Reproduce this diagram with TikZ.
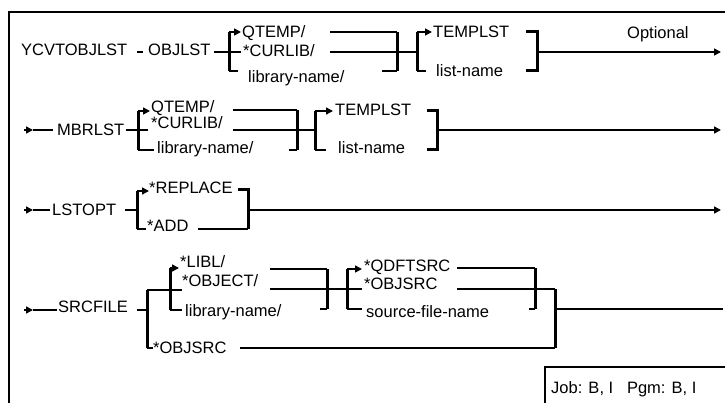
\documentclass[tikz,border=0pt]{standalone}
\usepackage{fontspec}
\setmainfont{Liberation Sans}
\usetikzlibrary{arrows.meta}
\begin{document}
\begin{tikzpicture}[x=1pt,y=-1pt,
  lbl/.style={anchor=base west,inner sep=0pt,font=\fontsize{16.5}{20}\selectfont},
  ln/.style={line width=1.5pt},
  brk/.style={line width=3pt},
  tk/.style={line width=2.4pt},
  arr/.style={line width=1.5pt,-{Triangle[length=7pt,width=7pt]}}]
\useasboundingbox (0,0) rectangle (725,403);
% frame
\coordinate (fbl) at (9,404); \coordinate (ftl) at (9,12); \coordinate (ftr) at (726,12);
\draw[line width=1.6pt] (fbl) -- (ftl) -- (ftr);

% ---------- Row 1 ----------
\node[lbl] (ycv) at (21,56) {YCVTOBJLST};
\coordinate (d1a) at (137,52); \coordinate (d1b) at (143,52);
\draw[ln] (d1a) -- (d1b);
\node[lbl] (objlst) at (148,56) {OBJLST};
\coordinate (o1) at (214,52); \coordinate (c1) at (241,52);
\draw[ln] (o1) -- (c1);
\coordinate (b1t) at (229,32); \coordinate (b1b) at (229,71);
\draw[brk] (b1t) -- (b1b);
\coordinate (b1a) at (241,32); \coordinate (b1k) at (238,71);
\draw[arr] (b1t) -- (b1a);
\draw[tk] (b1b) -- (b1k);
\node[lbl] (q1) at (242,38) {QTEMP/};
\node[lbl] (cl1) at (243,57) {*CURLIB/};
\node[lbl] (ln1) at (248,83) {library-name/};
\coordinate (r1a) at (330,32); \coordinate (r1b) at (397,32);
\coordinate (r1c) at (397,71); \coordinate (r1d) at (382,71);
\draw[ln] (r1a) -- (r1b);
\draw[brk] (r1b) -- (r1c);
\draw[tk] (r1d) -- (r1c);
\coordinate (r1e) at (330,52); \coordinate (b2m) at (417,52);
\draw[ln] (r1e) -- (b2m);
\coordinate (b2t) at (417,32); \coordinate (b2b) at (417,71);
\coordinate (b2a) at (432,32); \coordinate (b2k) at (426,71);
\draw[brk] (b2t) -- (b2b);
\draw[arr] (b2t) -- (b2a);
\draw[tk] (b2b) -- (b2k);
\node[lbl] (tl1) at (433,38) {TEMPLST};
\node[lbl] (lname1) at (436,77) {list-name};
\coordinate (e1a) at (526,32); \coordinate (e1b) at (537,32);
\coordinate (e1c) at (537,71); \coordinate (e1d) at (526,71);
\draw[brk] (e1a) -- (e1b) -- (e1c) -- (e1d);
\coordinate (m1) at (537,52); \coordinate (m1e) at (721,52);
\draw[arr] (m1) -- (m1e);
\node[lbl] (opt) at (627,39) {Optional};

% ---------- Row 2 ----------
\coordinate (s2a) at (24,130); \coordinate (s2b) at (33,130); \coordinate (s2c) at (53,130);
\draw[arr] (s2a) -- (s2b);
\draw[ln] (s2b) -- (s2c);
\node[lbl] (mbr) at (57,136) {MBRLST};
\coordinate (o2) at (126,130); \coordinate (c2) at (148,130);
\draw[ln] (o2) -- (c2);
\coordinate (b3t) at (138,111); \coordinate (b3b) at (138,150);
\coordinate (b3a) at (150,111); \coordinate (b3k) at (154,150);
\draw[brk] (b3t) -- (b3b);
\draw[arr] (b3t) -- (b3a);
\draw[tk] (b3b) -- (b3k);
\node[lbl] (q2) at (151,113) {QTEMP/};
\node[lbl] (cl2) at (151,129) {*CURLIB/};
\node[lbl] (ln2) at (157,154) {library-name/};
\coordinate (r2a) at (233,110); \coordinate (r2b) at (297,110);
\coordinate (r2c) at (297,150); \coordinate (r2d) at (289,150);
\draw[ln] (r2a) -- (r2b);
\draw[brk] (r2b) -- (r2c);
\draw[tk] (r2d) -- (r2c);
\coordinate (r2e) at (233,130); \coordinate (b4m) at (315,130);
\draw[ln] (r2e) -- (b4m);
\coordinate (b4t) at (315,111); \coordinate (b4b) at (315,150);
\coordinate (b4a) at (333,111); \coordinate (b4k) at (326,150);
\draw[brk] (b4t) -- (b4b);
\draw[arr] (b4t) -- (b4a);
\draw[tk] (b4b) -- (b4k);
\node[lbl] (tl2) at (335,116) {TEMPLST};
\node[lbl] (lname2) at (338,154) {list-name};
\coordinate (e2a) at (427,111); \coordinate (e2b) at (437,111);
\coordinate (e2c) at (437,150); \coordinate (e2d) at (427,150);
\draw[brk] (e2a) -- (e2b) -- (e2c) -- (e2d);
\coordinate (m2) at (437,130); \coordinate (m2e) at (721,130);
\draw[arr] (m2) -- (m2e);

% ---------- Row 3 ----------
\coordinate (s3a) at (24,210); \coordinate (s3b) at (33,210); \coordinate (s3c) at (50,210);
\draw[arr] (s3a) -- (s3b);
\draw[ln] (s3b) -- (s3c);
\node[lbl] (lst) at (52,216) {LSTOPT};
\coordinate (o3) at (125,210); \coordinate (c3) at (137,210);
\draw[ln] (o3) -- (c3);
\coordinate (b5t) at (137,191); \coordinate (b5b) at (137,229);
\coordinate (b5a) at (149,191); \coordinate (b5k) at (146,229);
\draw[brk] (b5t) -- (b5b);
\draw[arr] (b5t) -- (b5a);
\draw[tk] (b5b) -- (b5k);
\node[lbl] (rep) at (149,194) {*REPLACE};
\node[lbl] (add) at (147,232) {*ADD};
\coordinate (r3a) at (198,229); \coordinate (r3b) at (248,229);
\coordinate (r3c) at (248,190); \coordinate (r3d) at (238,190);
\draw[ln] (r3a) -- (r3b);
\draw[brk] (r3d) -- (r3c) -- (r3b);
\coordinate (m3) at (248,210); \coordinate (m3e) at (721,210);
\draw[arr] (m3) -- (m3e);

% ---------- Row 4 ----------
\coordinate (s4a) at (24,310); \coordinate (s4b) at (33,310); \coordinate (s4c) at (57,310);
\draw[arr] (s4a) -- (s4b);
\draw[ln] (s4b) -- (s4c);
\node[lbl] (src) at (58,312) {SRCFILE};
\coordinate (o4) at (137,310); \coordinate (c4) at (147,310);
\draw[ln] (o4) -- (c4);
\coordinate (b6t) at (147,290); \coordinate (b6b) at (147,348);
\draw[brk] (b6t) -- (b6b);
\coordinate (b6r) at (182,290);
\draw[ln] (b6t) -- (b6r);
\coordinate (b7t) at (170,268); \coordinate (b7b) at (170,310);
\coordinate (b7a) at (179,268); \coordinate (b7k) at (182,310);
\draw[brk] (b7t) -- (b7b);
\draw[arr] (b7t) -- (b7a);
\draw[tk] (b7b) -- (b7k);
\node[lbl] (libl) at (180,267) {*LIBL/};
\node[lbl] (objc) at (182,286) {*OBJECT/};
\node[lbl] (ln4) at (185,316) {library-name/};
\coordinate (b6k) at (153,348);
\draw[tk] (b6b) -- (b6k);
\node[lbl] (objsrc2) at (153,353) {*OBJSRC};
\coordinate (r4a) at (270,269); \coordinate (r4b) at (327,269);
\coordinate (r4c) at (327,309); \coordinate (r4d) at (320,309);
\draw[ln] (r4a) -- (r4b);
\draw[brk] (r4b) -- (r4c);
\draw[tk] (r4d) -- (r4c);
\coordinate (r4e) at (270,289); \coordinate (c5) at (362,289);
\draw[ln] (r4e) -- (c5);
\coordinate (b8t) at (347,269); \coordinate (b8b) at (347,309);
\coordinate (b8a) at (362,269); \coordinate (b8k) at (362,309);
\draw[brk] (b8t) -- (b8b);
\draw[arr] (b8t) -- (b8a);
\draw[tk] (b8b) -- (b8k);
\node[lbl] (qdf) at (364,272) {*QDFTSRC};
\node[lbl] (objsrc1) at (364,290) {*OBJSRC};
\node[lbl] (sfn) at (366,317) {source-file-name};
\coordinate (r5a) at (457,268); \coordinate (r5b) at (535,268);
\coordinate (r5c) at (535,309); \coordinate (r5d) at (529,309);
\draw[ln] (r5a) -- (r5b);
\draw[brk] (r5b) -- (r5c);
\draw[tk] (r5d) -- (r5c);
\coordinate (r5e) at (457,289); \coordinate (g1) at (555,289);
\coordinate (g2) at (555,348); \coordinate (g0) at (240,348);
\draw[ln] (r5e) -- (g1);
\draw[ln] (g0) -- (g2);
\draw[brk] (g1) -- (g2);
\coordinate (m4) at (555,309); \coordinate (m4e) at (723,309);
\draw[ln] (m4) -- (m4e);

% ---------- Job box ----------
\coordinate (j1) at (545,404); \coordinate (j2) at (545,367); \coordinate (j3) at (726,367);
\draw[line width=1.6pt] (j1) -- (j2) -- (j3);
\node[lbl] (job) at (551,393) {Job: B, I\ \ \ Pgm: B, I};
\end{tikzpicture}
\end{document}
